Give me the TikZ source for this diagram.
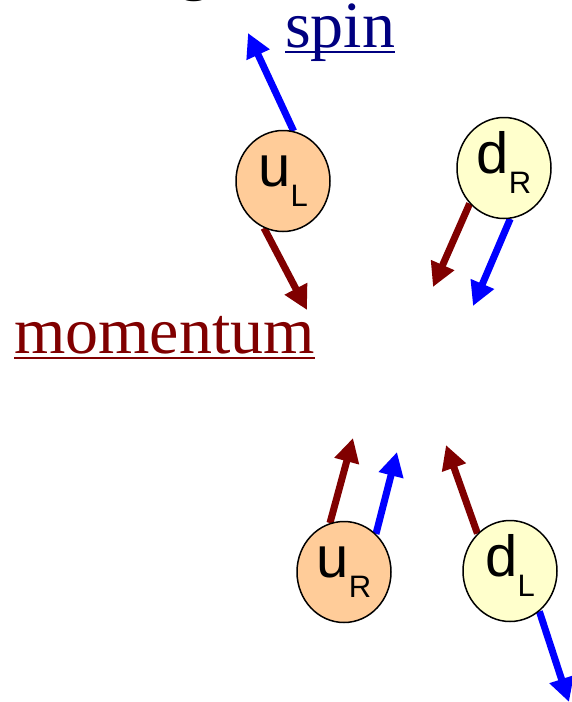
\documentclass[tikz,border=0pt]{standalone}
\usepackage{fontspec}
\setmainfont{Liberation Serif}
\newfontfamily\labelfont{Liberation Sans}
\usetikzlibrary{arrows.meta,backgrounds,shapes.geometric}
\definecolor{peach}{HTML}{FFCC99}
\definecolor{paleyellow}{HTML}{FFFFCC}
\definecolor{spinblue}{HTML}{0000FF}
\definecolor{momred}{HTML}{800000}
\definecolor{navytext}{HTML}{000080}
\tikzset{
  particle/.style={ellipse, draw=black, line width=1.5pt, minimum width=94pt,
    minimum height=101pt, inner sep=0pt, text height=30pt, text depth=20pt,
    font=\labelfont\fontsize{58}{58}\selectfont},
  spinarrow/.style={draw=spinblue, line width=7pt, -{Triangle[length=24pt,width=24pt]}},
  momarrow/.style={draw=momred, line width=7pt, -{Triangle[length=24pt,width=24pt]}},
  bigword/.style={font=\fontsize{66}{66}\selectfont, inner sep=0pt, anchor=base west,
    text height=30pt, text depth=14pt},
}
\newcommand{\sublab}[1]{\raisebox{-20pt}{\fontsize{31}{31}\selectfont #1}}
\begin{document}
\begin{tikzpicture}[x=1pt,y=-1pt]
\useasboundingbox (0,0) rectangle (572,702);
% cut-off text at the top edge
\node[bigword, text=black] (gfrag) at (178,-13) {g};
% labels
\node[bigword, text=navytext] (spin) at (285,47) {spin};
\draw[navytext, line width=2.5pt] ([yshift=-5pt]spin.base west) -- ([yshift=-5pt]spin.base east);
\node[bigword, text=momred] (mom) at (14,353) {momentum};
\draw[momred, line width=2.5pt] ([yshift=-5pt]mom.base west) -- ([yshift=-5pt]mom.base east);
% particles
\node[particle, fill=peach] (uL) at (283,181) {u\sublab{L}};
\node[particle, fill=paleyellow] (dR) at (504,168) {d\sublab{R}};
\node[particle, fill=peach] (uR) at (344,572) {u\sublab{R}};
\node[particle, fill=paleyellow] (dL) at (510,571) {d\sublab{L}};
% arrow tips
\coordinate (uLs) at (248,33);
\coordinate (uLm) at (307,310);
\coordinate (dRm) at (433,287);
\coordinate (dRs) at (473,306);
\coordinate (uRm) at (353,438);
\coordinate (uRs) at (397,452);
\coordinate (dLm) at (446,445);
\coordinate (dLs) at (569,702);
\begin{pgfonlayer}{background}
\draw[spinarrow] (uL.78) -- (uLs);
\draw[momarrow] (uL.248) -- (uLm);
\draw[momarrow] (dR.226) -- (dRm);
\draw[spinarrow] (dR.277) -- (dRs);
\draw[momarrow] (uR.106) -- (uRm);
\draw[spinarrow] (uR.50) -- (uRs);
\draw[momarrow] (dL.131) -- (dLm);
\draw[spinarrow] (dL.306) -- (dLs);
\end{pgfonlayer}
\end{tikzpicture}
\end{document}
